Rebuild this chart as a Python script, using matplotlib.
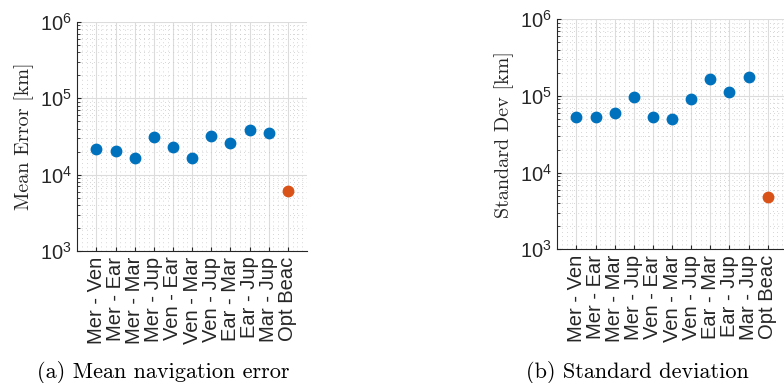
import matplotlib
matplotlib.use('Agg')
import matplotlib.pyplot as plt
from matplotlib.ticker import LogLocator, MultipleLocator, NullFormatter, FixedLocator

# data
pairs = ['Mer - Ven', 'Mer - Ear', 'Mer - Mar', 'Mer - Jup', 'Ven - Ear',
         'Ven - Mar', 'Ven - Jup', 'Ear - Mar', 'Ear - Jup', 'Mar - Jup']
opt_label = 'Opt Beac'

mean_err = [21700, 20600, 16400, 31100, 22800, 16400, 32400, 26000, 38500, 34800]
mean_err_opt = 6100

std_dev = [53700, 53700, 59400, 97000, 53200, 49600, 91400, 165000, 113000, 175000]
std_dev_opt = 4800

plt.rcParams['font.family'] = ['Liberation Sans', 'DejaVu Sans']
plt.rcParams['mathtext.default'] = 'regular'

blue = '#0072BD'
orange = '#D95319'
dark = '#262626'


def panel(ax, vals, opt_val, ylabel):
	xs = list(range(1, len(vals) + 1))
	ax.plot(xs, vals, 'o', color=blue, markersize=7.5, zorder=3)
	ax.plot([len(vals) + 1], [opt_val], 'o', color=orange, markersize=7.5, zorder=3)

	ax.set_yscale('log')
	ax.set_ylim(1e3, 1e6)
	ax.set_xlim(0, len(vals) + 2)

	labels = pairs + [opt_label]
	ax.xaxis.set_major_locator(FixedLocator(range(1, len(labels) + 1)))
	ax.set_xticklabels(labels, rotation=90, fontsize=14.5, color=dark)
	ax.xaxis.set_minor_locator(MultipleLocator(0.25))

	ax.yaxis.set_minor_locator(LogLocator(base=10, subs=range(2, 10), numticks=20))
	ax.yaxis.set_minor_formatter(NullFormatter())
	ax.set_yticks([1e3, 1e4, 1e5, 1e6])
	ax.set_yticklabels(['$10^{3}$', '$10^{4}$', '$10^{5}$', '$10^{6}$'], fontsize=14.5, color=dark)

	ax.grid(True, which='major', color='#dcdcdc', linewidth=0.8, linestyle='-')
	ax.grid(True, which='minor', color='#c8c8c8', linewidth=0.6, linestyle=(0, (1, 4)))
	ax.set_axisbelow(True)

	ax.tick_params(which='major', direction='in', length=3, color=dark, pad=4)
	ax.tick_params(axis='x', which='minor', length=0)
	ax.tick_params(axis='y', which='minor', direction='in', length=2, color=dark)

	for s in ['top', 'right']:
		ax.spines[s].set_visible(False)
	for s in ['left', 'bottom']:
		ax.spines[s].set_color(dark)
		ax.spines[s].set_linewidth(0.8)

	ax.set_ylabel(ylabel, family='cmr10', fontsize=14.5, color=dark, labelpad=4)


fig = plt.figure(figsize=(7.84, 3.83), dpi=100)

ax1 = fig.add_axes([0.0986, 0.3446, 0.2929, 0.5987])
panel(ax1, mean_err, mean_err_opt, 'Mean Error [km]')

ax2 = fig.add_axes([0.7108, 0.3491, 0.2929, 0.6005])
panel(ax2, std_dev, std_dev_opt, 'Standard Dev [km]')

fig.text(163 / 784, 1 - 373 / 383, '(a) Mean navigation error', family='cmr10',
	fontsize=16, ha='center', va='center', color='black')
fig.text(637 / 784, 1 - 373 / 383, '(b) Standard deviation', family='cmr10',
	fontsize=16, ha='center', va='center', color='black')

fig.savefig('out.png', dpi=100)
